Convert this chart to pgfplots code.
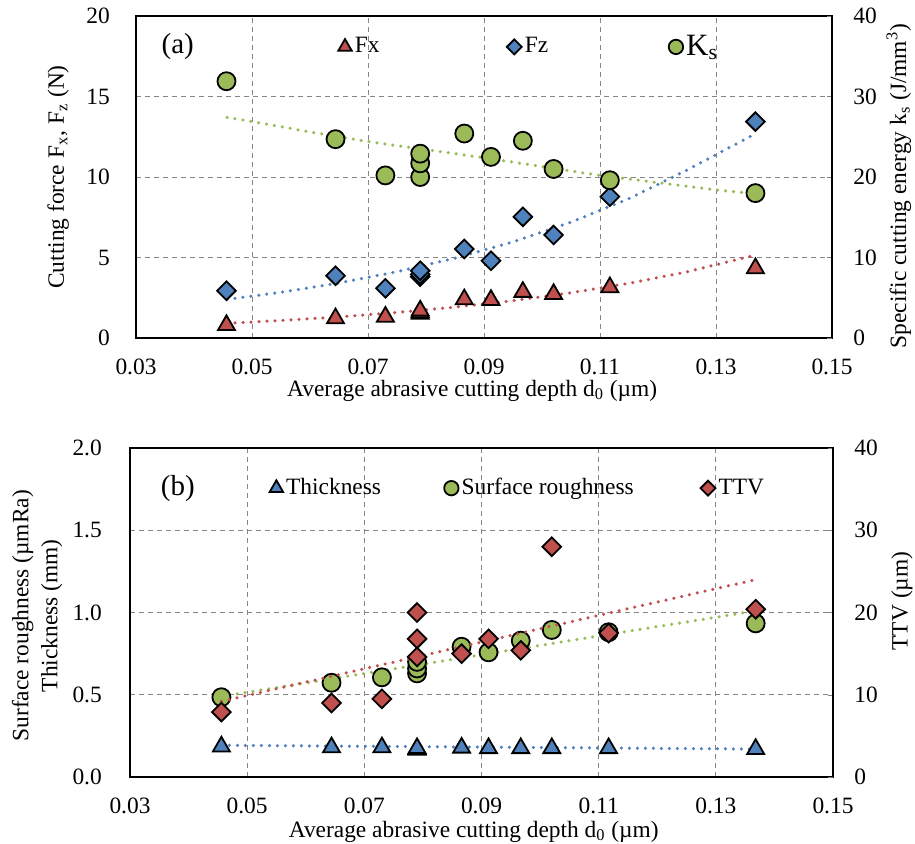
\documentclass[border=0pt]{standalone}
\usepackage{pgfplots}
\pgfplotsset{compat=1.18}
\usepackage{fontspec}
\setmainfont{Liberation Serif}

\definecolor{xred}{HTML}{C0504D}
\definecolor{xblue}{HTML}{4F81BD}
\definecolor{xgreen}{HTML}{9BBB59}
\definecolor{gridgray}{HTML}{868686}

\pgfplotsset{
  base/.style={scale only axis, xmin=0.03, xmax=0.15,
    xtick={0.03,0.05,0.07,0.09,0.11,0.13,0.15},
    /pgf/number format/assume math mode=true,
    axis line style={line width=1pt}, clip=false},
  leftax/.style={base, grid=major,
    grid style={gridgray, line width=0.5pt, dash pattern=on 2.5pt off 2pt},
    major tick length=0pt, ytick pos=left, xtick pos=bottom,
    xticklabel style={yshift=-6.3pt, /pgf/number format/.cd, fixed, fixed zerofill, precision=2}},
  rightax/.style={base, axis x line=none, axis y line*=right,
    tick align=inside, major tick length=2.5pt, ymin=0, ymax=40,
    ytick={0,10,20,30,40}, yticklabel style={xshift=6.6pt},
    ylabel style={anchor=center},
    legend style={draw=none, fill=none, anchor=west, inner sep=0pt,
      legend columns=3, nodes={inner xsep=1.5pt}},
    legend cell align=left},
  trend/.style={color=#1, line width=1.75pt, dash pattern=on 0pt off 4pt,
    line cap=round, no marks, forget plot},
  legimg/.style={legend image code/.code={\draw[##1, every mark/.append style={scale=0.8}] plot coordinates {(0pt,0pt)};}},
  mtri/.style={only marks, mark=triangle*, mark size=4.9pt,
    mark options={fill=#1, draw=black, line width=0.9pt}, legimg},
  mdia/.style={only marks, mark=square*, mark size=3.3pt,
    mark options={rotate=45, fill=#1, draw=black, line width=0.9pt}, legimg},
  mcirc/.style={only marks, mark=*, mark size=4.5pt,
    mark options={fill=#1, draw=black, line width=0.9pt}, legimg},
}

\begin{document}
\fontsize{11.7}{14}\selectfont
\begin{tikzpicture}
\useasboundingbox (0,0) rectangle (457.5pt,-421.5pt);

% ---------------- panel (a) ----------------
\begin{axis}[leftax, at={(68pt,-169pt)}, anchor=south west,
  width=348pt, height=161pt,
  ymin=0, ymax=20, ytick={0,5,10,15,20}, yticklabel style={xshift=-9pt},
  ylabel={Cutting force F\textsubscript{x}, F\textsubscript{z} (N)},
  ylabel style={at={(axis description cs:-0.112,0.5)}, anchor=center},
  xlabel={Average abrasive cutting depth d\textsubscript{0} (µm)},
  xlabel style={at={(axis description cs:0.483,-0.163)}, anchor=center}]
% Fx
\addplot[mtri=xred] coordinates {
  (0.0456,0.80) (0.0644,1.22) (0.0730,1.32) (0.0790,1.50) (0.0790,1.60) (0.0790,1.70)
  (0.0866,2.40) (0.0912,2.36) (0.0967,2.86) (0.1020,2.73) (0.1117,3.15) (0.1368,4.33)};
% Fz
\addplot[mdia=xblue] coordinates {
  (0.0456,2.94) (0.0644,3.87) (0.0730,3.09) (0.0790,3.81) (0.0790,3.95) (0.0790,4.18)
  (0.0866,5.53) (0.0912,4.80) (0.0967,7.53) (0.1020,6.40) (0.1117,8.78) (0.1368,13.44)};
\addplot[trend=xred] coordinates {
  (0.0457,0.91) (0.055,1.09) (0.065,1.31) (0.075,1.59) (0.085,1.92) (0.095,2.32)
  (0.105,2.81) (0.115,3.40) (0.125,4.11) (0.1369,5.16)};
\addplot[trend=xblue] coordinates {
  (0.0457,2.40) (0.055,2.84) (0.065,3.42) (0.075,4.12) (0.085,4.96) (0.095,5.97)
  (0.105,7.19) (0.115,8.66) (0.125,10.43) (0.1369,12.71)};
\node[font=\fontsize{14.5}{16}\selectfont] at (axis description cs:0.06,0.904) {(a)};
\end{axis}

\begin{axis}[rightax, at={(68pt,-169pt)}, anchor=south west,
  width=348pt, height=161pt,
  ylabel={Specific cutting energy k\textsubscript{s} (J/mm\textsuperscript{3})},
  ylabel style={at={(axis description cs:1.096,0.472)}},
  legend style={at={(axis description cs:0.29,0.904)}}]
\addlegendimage{mtri=xred}
\addlegendentry{\makebox[74.5pt][l]{Fx}}
\addlegendimage{mdia=xblue}
\addlegendentry{\makebox[70.5pt][l]{Fz}}
\addplot[mcirc=xgreen] coordinates {
  (0.0456,31.9) (0.0644,24.7) (0.0730,20.2) (0.0790,20.0) (0.0790,21.7) (0.0790,22.9)
  (0.0866,25.4) (0.0912,22.5) (0.0967,24.5) (0.1020,21.0) (0.1117,19.6) (0.1368,18.0)};
\addlegendentry{{\fontsize{15.5}{16}\selectfont K\textsubscript{s}}}
\addplot[trend=xgreen] coordinates {
  (0.0457,27.4) (0.05,26.9) (0.06,25.6) (0.07,24.4) (0.08,23.4) (0.09,22.4)
  (0.10,21.3) (0.11,20.2) (0.12,19.3) (0.13,18.4) (0.1369,17.9)};
\end{axis}

% ---------------- panel (b) ----------------
\begin{axis}[leftax, at={(65pt,-388.5pt)}, anchor=south west,
  width=351.5pt, height=164.5pt,
  ymin=0, ymax=2, ytick={0,0.5,1,1.5,2}, yticklabel style={xshift=-10pt,
    /pgf/number format/.cd, fixed, fixed zerofill, precision=1},
  ylabel={Surface roughness (µmRa)\\Thickness (mm)},
  ylabel style={at={(axis description cs:-0.132,0.49)}, anchor=center, align=center,
    font=\fontsize{11.7}{14.5}\selectfont},
  xlabel={Average abrasive cutting depth d\textsubscript{0} (µm)},
  xlabel style={at={(axis description cs:0.489,-0.166)}, anchor=center}]
% thickness
\addplot[mtri=xblue] coordinates {
  (0.0456,0.185) (0.0644,0.180) (0.0730,0.180) (0.0790,0.165) (0.0790,0.170) (0.0790,0.175)
  (0.0866,0.178) (0.0912,0.175) (0.0967,0.175) (0.1020,0.175) (0.1117,0.175) (0.1368,0.170)};
% surface roughness
\addplot[mcirc=xgreen] coordinates {
  (0.0456,0.485) (0.0644,0.573) (0.0730,0.606) (0.0790,0.630) (0.0790,0.660) (0.0790,0.700)
  (0.0866,0.792) (0.0912,0.758) (0.0967,0.829) (0.1020,0.894) (0.1117,0.880) (0.1368,0.934)};
\addplot[trend=xblue] coordinates {(0.0456,0.193) (0.1368,0.170)};
\addplot[trend=xgreen] coordinates {(0.0456,0.490) (0.1368,1.010)};
\node[font=\fontsize{14.5}{16}\selectfont] at (axis description cs:0.068,0.878) {(b)};
\end{axis}

\begin{axis}[rightax, at={(65pt,-388.5pt)}, anchor=south west,
  width=351.5pt, height=164.5pt,
  ylabel={TTV (µm)},
  ylabel style={at={(axis description cs:1.098,0.535)}},
  legend style={at={(axis description cs:0.198,0.878)}}]
\addlegendimage{mtri=xblue}
\addlegendentry{\makebox[77.5pt][l]{Thickness}}
\addlegendimage{mcirc=xgreen}
\addlegendentry{\makebox[118pt][l]{Surface roughness}}
\addplot[mdia=xred] coordinates {
  (0.0456,7.9) (0.0644,9.0) (0.0730,9.5) (0.0790,14.6) (0.0790,16.8) (0.0790,20.0)
  (0.0866,15.0) (0.0912,16.8) (0.0967,15.4) (0.1020,28.0) (0.1117,17.5) (0.1368,20.4)};
\addlegendentry{TTV}
\addplot[trend=xred] coordinates {(0.0456,9.2) (0.1368,24.0)};
\end{axis}
\end{tikzpicture}
\end{document}
